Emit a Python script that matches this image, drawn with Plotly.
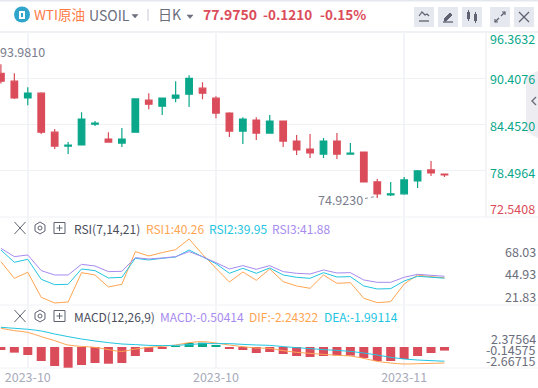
import plotly.graph_objects as go

W, H = 538, 388
FONT = "Noto Sans CJK SC"
RED, GREEN = "#DB4C5A", "#0AA78B"
ORANGE, CYAN, PURPLE = "#FFA552", "#22C5E0", "#A78BEF"
GRID = "#F3F4F8"

# ---- data ----
high = [92.21,91.05,89.25,88.61,83.86,82.19,86.04,84.89,83.47,83.99,87.75,88.48,87.84,90.03,90.80,89.90,88.10,86.04,85.40,85.40,85.66,84.89,83.09,83.22,82.71,83.35,82.06,80.91,77.44,77.06,77.70,78.60,79.75,78.08]
body_top = [91.05,90.03,88.48,88.48,83.47,81.81,85.15,84.63,82.58,82.58,87.75,87.59,87.84,88.23,90.41,89.13,87.84,85.92,85.15,85.02,84.89,84.89,82.32,81.29,82.32,82.32,80.78,80.91,77.06,75.52,77.31,78.47,78.60,78.08]
body_bot = [90.03,87.88,87.88,83.47,81.68,81.68,81.81,84.50,82.19,82.06,83.47,87.07,86.81,87.84,88.35,88.48,85.92,83.60,83.60,83.35,83.35,82.32,81.17,80.78,80.65,80.65,80.65,77.06,75.52,75.39,75.52,77.18,78.21,77.95]
low = [89.73,87.75,86.94,83.22,81.29,80.65,81.81,84.25,82.19,81.55,83.47,86.43,85.66,87.33,86.69,87.71,85.27,82.83,81.93,82.45,83.35,81.55,80.52,80.14,80.14,80.01,80.59,77.06,75.00,75.26,75.39,76.29,77.83,77.70]
rising = [0,0,1,0,0,1,1,1,0,1,1,0,1,1,1,0,0,0,1,0,1,0,0,0,1,0,1,0,0,1,1,1,0,0]
rsi1 = [56.78,39.81,45.92,20.47,14.71,15.72,45.58,43.21,30.99,33.71,66.96,62.55,65.94,68.99,79.85,64.24,49.99,36.08,46.26,37.78,49.31,36.42,32.01,29.63,43.21,34.72,35.40,19.46,15.05,16.06,34.04,43.21,41.51,40.26]
rsi2 = [68.65,56.10,59.15,38.79,33.37,33.71,49.31,47.62,40.15,40.83,60.17,58.47,60.17,61.53,68.65,61.87,54.74,44.90,49.99,44.90,50.33,43.21,40.83,39.81,45.58,41.17,41.51,32.01,28.96,29.30,37.10,41.85,41.17,39.95]
rsi3 = [70.35,61.87,63.56,47.62,43.21,43.21,54.06,52.37,46.60,46.94,60.85,59.49,60.51,61.87,66.96,61.87,55.76,49.31,52.71,48.97,52.71,46.60,44.90,44.22,48.30,45.24,45.58,38.12,35.74,35.74,40.83,43.89,42.87,41.88]
macd = [-0.42,-0.79,-1.12,-1.96,-2.66,-2.90,-2.52,-2.24,-2.34,-2.24,-1.26,-0.70,-0.28,0.05,0.56,0.61,0.28,-0.28,-0.42,-0.84,-0.70,-0.98,-1.26,-1.40,-1.26,-1.17,-1.21,-1.54,-1.96,-1.96,-1.68,-1.26,-0.84,-0.504]
dif = [2.62,2.29,2.05,1.45,0.89,0.28,0.09,-0.05,-0.37,-0.61,-0.28,-0.05,0.09,0.28,0.61,0.75,0.56,0.28,0.05,-0.14,-0.19,-0.51,-0.75,-0.89,-1.03,-1.17,-1.26,-1.59,-2.01,-2.24,-2.38,-2.34,-2.29,-2.24]
dea = [2.76,2.62,2.48,2.24,1.82,1.45,1.12,0.84,0.61,0.42,0.33,0.23,0.19,0.23,0.33,0.47,0.47,0.47,0.37,0.28,0.23,0.05,-0.09,-0.23,-0.37,-0.47,-0.61,-0.84,-1.12,-1.45,-1.68,-1.82,-1.91,-1.99]
price_ticks = [96.3632, 90.4076, 84.4520, 78.4964, 72.5408]
rsi_ticks = ["68.03", "44.93", "21.83"]
macd_ticks = ["2.37564", "-0.14575", "-2.66715"]
date_ticks = [2, 16, 30]
date_labels = ["2023-10", "2023-10", "2023-11"]

idx = list(range(len(high)))
openv = [b if r else t for r, t, b in zip(rising, body_top, body_bot)]
closev = [t if r else b for r, t, b in zip(rising, body_top, body_bot)]


def px(x):
    return x / W


def py(y):
    return 1 - y / H


fig = go.Figure()
fig.add_trace(go.Candlestick(
    x=idx, open=openv, high=high, low=low, close=closev, xaxis="x", yaxis="y",
    increasing=dict(line=dict(color=GREEN, width=1.2), fillcolor=GREEN),
    decreasing=dict(line=dict(color=RED, width=1.2), fillcolor=RED),
    whiskerwidth=0, showlegend=False, hoverinfo="skip"))
for vals, col in ((rsi1, ORANGE), (rsi2, CYAN), (rsi3, PURPLE)):
    fig.add_trace(go.Scatter(x=idx, y=vals, mode="lines", line=dict(color=col, width=1),
                             xaxis="x2", yaxis="y2", showlegend=False, hoverinfo="skip"))
fig.add_trace(go.Bar(x=idx, y=macd, width=0.67, marker=dict(color=[GREEN if v > 0 else RED for v in macd], line=dict(width=0)),
                     xaxis="x3", yaxis="y3", showlegend=False, hoverinfo="skip"))
for vals, col in ((dif, ORANGE), (dea, CYAN)):
    fig.add_trace(go.Scatter(x=idx, y=vals, mode="lines", line=dict(color=col, width=1, shape="spline"),
                             xaxis="x3", yaxis="y3", showlegend=False, hoverinfo="skip"))

xr = [-0.067, 36.09]
xcommon = dict(range=xr, tickmode="array", tickvals=date_ticks, showgrid=True, gridcolor=GRID, gridwidth=1.5,
               zeroline=False, showline=False, ticks="", domain=[0, px(486)], rangeslider=dict(visible=False))
ycommon = dict(zeroline=False, showline=False, ticks="", showticklabels=False)
shapes, ann = [], []


def line(x0, y0, x1, y1, col="#F0F1F5", w=1, dash=None):
    shapes.append(dict(type="line", xref="paper", yref="paper", x0=px(x0), y0=py(y0), x1=px(x1), y1=py(y1),
                       line=dict(color=col, width=w, dash=dash) if dash else dict(color=col, width=w), layer="below"))


def path(points, col="#5F6270", w=1.3, fill=None, close=False, above=True):
    d = "M" + " L".join(f"{px(a):.5f},{py(b):.5f}" for a, b in points) + (" Z" if close else "")
    shapes.append(dict(type="path", xref="paper", yref="paper", path=d, fillcolor=fill or "rgba(0,0,0,0)",
                       line=dict(color=col, width=w), layer="above" if above else "below"))


def rect(x0, y0, x1, y1, fill, col=None, w=0, layer="below"):
    shapes.append(dict(type="rect", xref="paper", yref="paper", x0=px(x0), y0=py(y0), x1=px(x1), y1=py(y1),
                       fillcolor=fill, line=dict(color=col or fill, width=w), layer=layer))


def text(x, y, s, col, size=12.5, anchor="left", bold=False):
    ann.append(dict(xref="paper", yref="paper", x=px(x), y=py(y), text=f"<b>{s}</b>" if bold else s, showarrow=False,
                    xanchor=anchor, yanchor="middle", font=dict(family=FONT, size=size, color=col), borderpad=0, borderwidth=0))


# panel separators
line(0, 0.5, W, 0.5, "#E4E7EE", 2)
line(0, 32, W, 32, "#F0F1F5", 2)
line(0, 217, W, 217)
line(0, 305, W, 305)
line(0, 368, W, 368)
line(486, 32, 486, 217, "#F0F1F5", 1.5)
# collapse tab
path([(538, 71), (526, 77), (526, 132), (538, 138)], col="#ECECF1", w=0, fill="#ECECF1", close=True, above=False)
path([(536, 97), (532, 101), (536, 105)], col="#6B6E7C", w=1.4)

# header
shapes.append(dict(type="circle", xref="paper", yref="paper", x0=px(14), y0=py(22.5), x1=px(30), y1=py(6.5),
                   fillcolor="#2FA5CB", line=dict(width=0)))
rect(19, 11, 25, 19, "#FFFFFF", layer="above")
rect(21, 13, 23, 17, "#2FA5CB", layer="above")
text(34, 14, "WTI原油", "#FF7A45", 13.5)
text(89, 15.5, "USOIL", "#6B6E7C", 14)
path([(132, 14.5), (138, 14.5), (135, 18)], col="#6B6E7C", w=0.5, fill="#6B6E7C", close=True)
line(148, 9, 148, 21, "#C9CBD4", 1)
text(158, 14, "日K", "#6B6E7C", 14)
path([(187, 15), (193, 15), (190, 18.5)], col="#6B6E7C", w=0.5, fill="#6B6E7C", close=True)
text(203, 14, "77.9750", RED, 14, bold=True)
text(263, 14, "-0.1210", RED, 13.5, bold=True)
text(320, 14, "-0.15%", RED, 13.5, bold=True)
for b0 in (414, 438, 462, 490, 514):
    shapes.append(dict(type="path", xref="paper", yref="paper", fillcolor="#E6E8EF", line=dict(color="#E6E8EF", width=0), layer="below",
                       path="M{:.5f},{:.5f} L{:.5f},{:.5f} L{:.5f},{:.5f} L{:.5f},{:.5f} Z".format(px(b0), py(7), px(b0 + 20), py(7), px(b0 + 20), py(27), px(b0), py(27))))
path([(419, 16), (422, 12), (425, 15), (427, 14), (429, 16)], w=1.2)
line(419, 21, 429, 21, "#5F6270", 1.3)
path([(444, 19), (450, 13), (452, 15), (446, 21), (444, 21)], fill="#5F6270", w=1)
line(443, 22, 453, 22, "#5F6270", 1.3)
rect(467, 12, 470, 19, "#5F6270", layer="above")
line(468.5, 10, 468.5, 21, "#5F6270", 1)
rect(474, 14, 477, 21, "#5F6270", layer="above")
line(475.5, 12, 475.5, 23, "#5F6270", 1)
path([(495, 22), (499, 18)], w=1.2)
path([(495, 19), (495, 22), (498, 22)], w=1.2)
path([(501, 16), (505, 12)], w=1.2)
path([(502, 12), (505, 12), (505, 15)], w=1.2)
path([(519, 12), (529, 22)], w=1.2)
path([(529, 12), (519, 22)], w=1.2)

# price labels
text(490, 39, "96.3632", GREEN)
text(490, 79, "90.4076", GREEN)
text(490, 125.5, "84.4520", GREEN)
text(490, 172, "78.4964", GREEN)
text(490, 208, "72.5408", RED)
text(0, 52, "93.9810", "#7A7D8E")
text(318, 200, "74.9230", "#7A7D8E")
line(365, 198.5, 378, 196, "#8A8D9C", 1, "dot")

# panel headers
for yc in (228, 316):
    path([(14.5, yc - 6), (25.5, yc + 6)], col="#5F6270", w=1)
    path([(25.5, yc - 6), (14.5, yc + 6)], col="#5F6270", w=1)
    path([(40, yc - 6), (45, yc - 3), (45, yc + 3), (40, yc + 6), (35, yc + 3), (35, yc - 3)], col="#5F6270", w=1, close=True)
    shapes.append(dict(type="circle", xref="paper", yref="paper", x0=px(38), y0=py(yc + 2), x1=px(42), y1=py(yc - 2),
                       line=dict(color="#5F6270", width=1)))
    path([(54, yc - 5.5), (65, yc - 5.5), (65, yc + 5.5), (54, yc + 5.5)], col="#5F6270", w=1, close=True)
    path([(56.5, yc), (62.5, yc)], col="#5F6270", w=1)
    path([(59.5, yc - 3), (59.5, yc + 3)], col="#5F6270", w=1)
text(74, 228, "RSI(7,14,21)", "#4A4D5A", 12)
text(146, 228, "RSI1:40.26", ORANGE, 12)
text(209, 228, "RSI2:39.95", CYAN, 12)
text(272, 228, "RSI3:41.88", PURPLE, 12)
text(74, 316, "MACD(12,26,9)", "#4A4D5A", 12)
text(160, 316, "MACD:-0.50414", PURPLE, 12)
text(249, 316, "DIF:-2.24322", ORANGE, 12)
text(324, 316, "DEA:-1.99114", CYAN, 12)

# right labels of lower panels
for s, y in zip(rsi_ticks, (251, 273.5, 296)):
    text(535.5, y, s, "#6B6E7C", anchor="right")
for s, y in zip(macd_ticks, (338, 349.5, 360)):
    text(535.5, y, s, "#6B6E7C", anchor="right")

fig.update_layout(
    width=W, height=H, margin=dict(l=0, r=0, t=0, b=0), autosize=False,
    paper_bgcolor="#FFFFFF", plot_bgcolor="#FFFFFF", showlegend=False, barmode="overlay",
    xaxis=dict(**xcommon, anchor="y", showticklabels=False),
    xaxis2=dict(**xcommon, anchor="y2", showticklabels=False),
    xaxis3=dict(**xcommon, anchor="y3", ticktext=date_labels, showticklabels=True,
                tickfont=dict(family=FONT, size=12.5, color="#A9ABBB")),
    yaxis=dict(**ycommon, domain=[py(217), py(32)], range=[price_ticks[-1], price_ticks[0]], tickmode="array",
               tickvals=price_ticks[1:-1], showgrid=True, gridcolor="#F0F1F5", gridwidth=1),
    yaxis2=dict(**ycommon, domain=[py(305), py(217)], range=[12.66, 102.2], showgrid=False),
    yaxis3=dict(**ycommon, domain=[py(368), py(305)], range=[-2.94, 5.88], showgrid=False),
    shapes=shapes, annotations=ann,
    font=dict(family=FONT),
)
fig.write_html("out.html", config=dict(displayModeBar=False),
               post_script="document.body.style.margin='0';document.body.style.overflow='hidden';")
